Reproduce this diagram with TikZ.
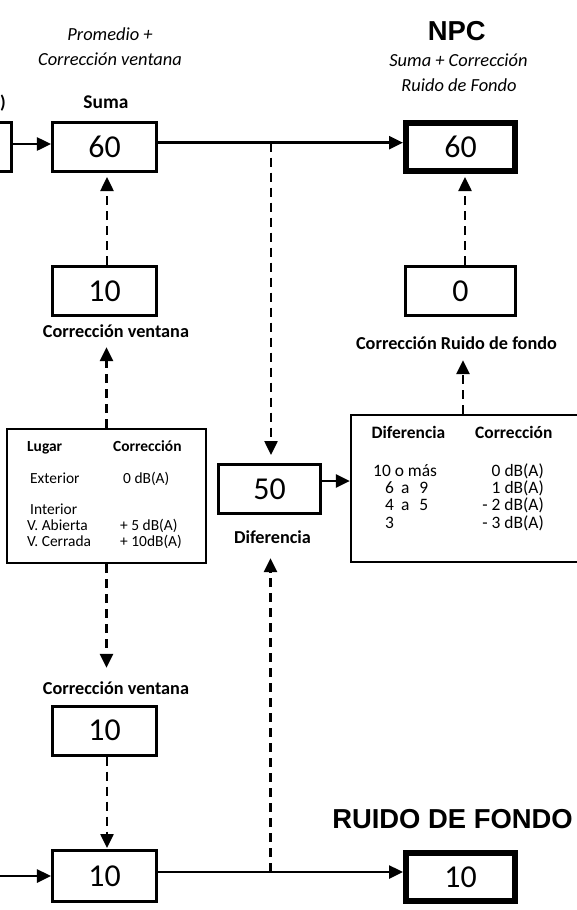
\documentclass[tikz,border=0pt]{standalone}
\usepackage{fontspec}
\setmainfont{Carlito}
\newfontfamily\arialf{Liberation Sans}
\usetikzlibrary{arrows.meta}
\begin{document}
\begin{tikzpicture}[x=1bp,y=-1bp,
  numbox/.style={draw, line width=3bp, minimum width=104bp, minimum height=49bp, inner sep=0pt, font=\fontsize{32}{38}\selectfont},
  thickbox/.style={numbox, line width=6bp, minimum width=109bp, minimum height=48bp},
  tabbox/.style={draw, line width=2.2bp, inner sep=0pt},
  lab/.style={font=\bfseries\fontsize{18.3}{22}\selectfont, inner sep=0pt, text height=13bp, text depth=4bp, anchor=base},
  ital/.style={font=\itshape\fontsize{18.5}{22}\selectfont, inner sep=0pt, anchor=base},
  titletxt/.style={font=\arialf\bfseries\fontsize{27.5}{33}\selectfont, inner sep=0pt, anchor=base},
  ltxt/.style={font=\fontsize{15.5}{18}\selectfont, inner sep=0pt, anchor=base west},
  ltxtb/.style={ltxt, font=\bfseries\fontsize{15.5}{18}\selectfont},
  rtxt/.style={font=\fontsize{17.5}{20}\selectfont, inner sep=0pt, anchor=base west},
  rtxtb/.style={rtxt, font=\bfseries\fontsize{17.5}{20}\selectfont},
  rtxte/.style={rtxt, anchor=base east},
  conn/.style={line width=2.5bp, -{Triangle[length=14bp,width=13bp]}},
  dconn/.style={conn, dash pattern=on 9bp off 6bp}
]
\useasboundingbox (0,0) rectangle (577,910);

% boxes
\node[draw, line width=3bp, minimum width=71.5bp, minimum height=49bp, inner sep=0pt] (lbox) at (-24.25,147) {};
\node[numbox] (suma) at (104.5,147) {60};
\node[thickbox] (npc) at (460.5,147) {60};
\node[numbox] (cv1) at (104.5,291) {10};
\node[numbox, minimum width=110bp] (cr) at (460.5,291) {0};
\node[numbox, minimum width=102bp] (dif) at (269.5,489) {50};
\node[numbox] (cv2) at (104.5,730.5) {10};
\node[numbox, minimum height=51bp] (bot) at (104.5,876) {10};
\node[thickbox] (rf) at (460.5,877) {10};
\node[tabbox, minimum width=199bp, minimum height=134bp] (tabL) at (106.5,496) {};
\node[tabbox, minimum width=239bp, minimum height=147bp] (tabR) at (470.5,488.5) {};

% labels
\node[lab, anchor=base east] (paren) at (6,108) {)};
\node[lab, font=\bfseries\fontsize{19.5}{22}\selectfont] (sumalab) at (106,108) {Suma};
\node[ital] (it1) at (110,40.7) {Promedio +};
\node[ital] (it2) at (110,65.7) {Corrección ventana};
\node[titletxt] (npct) at (456.7,40) {NPC};
\node[ital] (it3) at (458.5,66.7) {Suma + Corrección};
\node[ital] (it4) at (459,91.7) {Ruido de Fondo};
\node[lab] (cvlab1) at (116,337) {Corrección ventana};
\node[lab] (cvlab2) at (116,694) {Corrección ventana};
\node[lab] (diflab) at (272.5,543) {Diferencia};
\node[lab] (crlab) at (456.5,349) {Corrección Ruido de fondo};
\node[titletxt] (rft) at (452.5,828.3) {RUIDO DE FONDO};

% left table text
\node[ltxtb] (l1) at (27,451) {Lugar};
\node[ltxtb] (l2) at (113,451) {Corrección};
\node[ltxt] (l3) at (30,483) {Exterior};
\node[ltxt] (l4) at (123,483) {0 dB(A)};
\node[ltxt] (l5) at (30,514) {Interior};
\node[ltxt] (l6) at (27,530) {V. Abierta};
\node[ltxt] (l7) at (27,546) {V. Cerrada};
\node[ltxt] (l8) at (120,530) {+ 5 dB(A)};
\node[ltxt] (l9) at (120,546) {+ 10dB(A)};

% right table text
\node[rtxtb] (r1) at (371.5,438) {Diferencia};
\node[rtxtb] (r2) at (475,438) {Corrección};
\node[rtxt] (r3) at (373,476) {10 o más};
\node[rtxt] (r4) at (385,493) {6\hspace{7bp}a\hspace{10bp}9};
\node[rtxt] (r5) at (385,510.7) {4\hspace{7bp}a\hspace{10bp}5};
\node[rtxt] (r6) at (385,528) {3};
\node[rtxte] (r7) at (544,476) {0 dB(A)};
\node[rtxte] (r8) at (544,493) {1 dB(A)};
\node[rtxte] (r9) at (544,510.7) {- 2 dB(A)};
\node[rtxte] (r10) at (544,528) {- 3 dB(A)};

% connectors
\coordinate (lin) at (-10,876);
\coordinate (j1) at (271,142.7);
\coordinate (j2) at (270.5,872);

\draw[conn] ([yshift=3bp]lbox.east) -- ([yshift=3bp]suma.west);
\draw[conn] (suma.east |- j1) -- (npc.west |- j1);
\draw[dconn, shorten >=8bp] (j1) -- (j1 |- dif.north);
\draw[dconn, shorten >=4bp] ([xshift=2.5bp]cv1.north) -- ([xshift=2.5bp]suma.south);
\draw[dconn, shorten >=3bp] ([xshift=4.5bp]cr.north) -- ([xshift=4.5bp]npc.south);
\draw[dconn, shorten >=6bp] (tabL.north) -- (tabL.north |- cvlab1.south);
\draw[dconn, shorten >=13bp] (tabL.south) -- (tabL.south |- cvlab2.north);
\draw[dconn, shorten >=1bp] ([xshift=2.5bp]cv2.south) -- ([xshift=2.5bp]bot.north);
\draw[conn] (lin) -- (lin -| bot.west);
\draw[conn] (bot.east |- j2) -- (rf.west |- j2);
\draw[dconn, shorten >=11bp] (j2) -- (j2 |- diflab.south);
\draw[conn] ([yshift=8bp]dif.east) -- ([yshift=8bp]dif.east -| tabR.west);
\draw[dconn, shorten >=7bp] ([xshift=-7.5bp]tabR.north) -- ([xshift=-7.5bp]tabR.north |- crlab.south);
\end{tikzpicture}
\end{document}
